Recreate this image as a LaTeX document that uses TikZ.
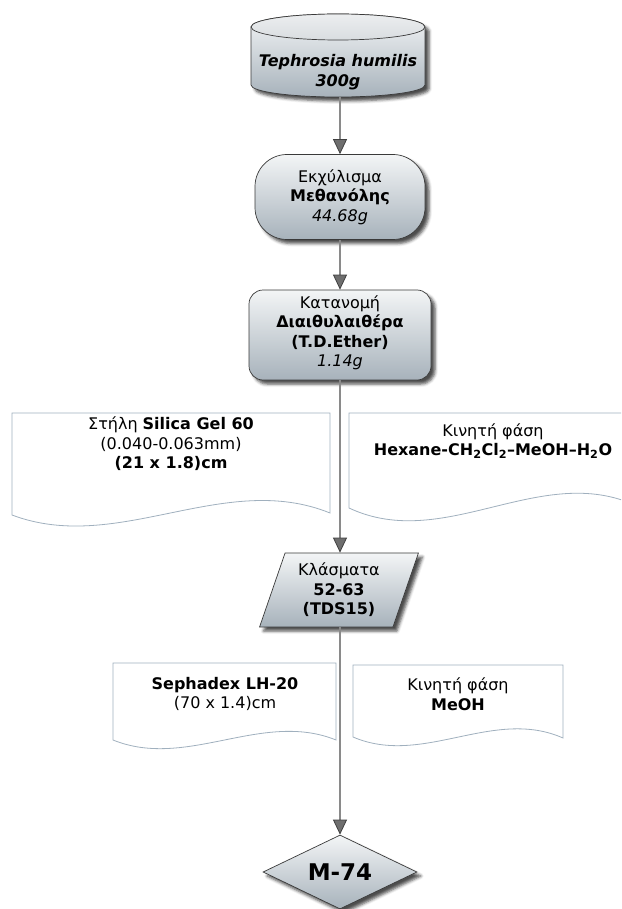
\documentclass[tikz,border=0pt]{standalone}
\usepackage{fontspec}
\setmainfont{DejaVu Sans}
\usepackage{tikz}
\usetikzlibrary{shapes.geometric, arrows.meta, shadows.blur}

\definecolor{boxtop}{HTML}{F3F5F6}
\definecolor{boxbot}{HTML}{A7B2BB}
\definecolor{capgray}{HTML}{D9DDE0}
\definecolor{edgegray}{HTML}{3A3A3A}
\definecolor{flowgray}{HTML}{8A8A8A}
\definecolor{sheetline}{HTML}{A0B0BE}

\tikzset{
  stage/.style={draw=edgegray, line width=0.7pt, top color=boxtop, bottom color=boxbot,
    blur shadow={shadow xshift=4pt, shadow yshift=-4pt, shadow blur radius=3pt, shadow opacity=70},
    align=center},
  flow/.style={draw=flowgray, line width=2.5pt,
    -{Triangle[width=14pt, length=15pt, line width=0.8pt, fill=flowgray!80!black, color=black!75]}},
  sheet/.style={draw=sheetline, line width=0.8pt, fill=white},
}

\begin{document}
\begin{tikzpicture}[x=1pt, y=-1pt, font=\fontsize{16pt}{19.5pt}\selectfont]
\useasboundingbox (0,0) rectangle (621,909);
\clip (0,0) rectangle (621,909);

% column and solvent sheets
\draw[sheet] (12,413) -- (330,413) -- (330,513) .. controls (224,470) and (118,555) .. (12,515) -- cycle;
\draw[sheet] (349,413) -- (637,413) -- (637,506) .. controls (541,461) and (445,553) .. (349,508) -- cycle;
\draw[sheet] (113,663) -- (336,663) -- (336,740) .. controls (262,710) and (187,770) .. (113,740) -- cycle;
\draw[sheet] (353,665) -- (563,665) -- (563,738) .. controls (493,707) and (423,767) .. (353,737) -- cycle;

\node[align=center] (silica) at (171,444) {Στήλη \textbf{Silica Gel 60}\\(0.040-0.063mm)\\\textbf{(21 x 1.8)cm}};
\node[align=center] (phase) at (493,441) {Κινητή φάση\\\textbf{Hexane-CH\textsubscript{2}Cl\textsubscript{2}--MeOH--H\textsubscript{2}O}};
\node[align=center] (sephadex) at (225,694) {\textbf{Sephadex LH-20}\\(70 x 1.4)cm};
\node[align=center] (eluent) at (458,694) {Κινητή φάση\\\textbf{MeOH}};

% plant material drum
\path[stage] (251,27) -- (251,85) arc[start angle=180, end angle=360, x radius=87pt, y radius=12pt]
  -- (425,27) arc[start angle=0, end angle=180, x radius=87pt, y radius=13pt] -- cycle;
\draw[draw=edgegray, line width=0.7pt, top color=capgray!50!white, bottom color=capgray]
  (338,27) ellipse [x radius=87pt, y radius=13pt];
\node[align=center] (plant) at (338,72) {\textbf{\textit{Tephrosia humilis}}\\\textbf{\textit{300g}}};
\coordinate (plantbot) at (340,97);

\node[stage, rounded corners=32pt, minimum width=170pt, minimum height=85pt] (extract) at (340,197)
  {Εκχύλισμα\\\textbf{Μεθανόλης}\\\textit{44.68g}};
\node[stage, rounded corners=14pt, minimum width=182pt, minimum height=90pt, text depth=8pt] (partition) at (340,335)
  {Κατανομή\\\textbf{Διαιθυλαιθέρα}\\\textbf{(T.D.Ether)}\\\textit{1.14g}};
\node[stage, trapezium, trapezium left angle=71, trapezium right angle=109, trapezium stretches=true,
  minimum width=159pt, minimum height=74pt] (fractions) at (339,590)
  {Κλάσματα\\\textbf{52-63}\\\textbf{(TDS15)}};
\node[stage, diamond, aspect=2, inner sep=0pt, minimum width=154pt, minimum height=74pt,
  font=\fontsize{23pt}{26pt}\selectfont\bfseries] (product) at (340,872) {M-74};

\draw[flow] (plantbot) -- (extract.north);
\draw[flow] (extract.south) -- (partition.north);
\draw[flow] (partition.south) -- (partition.south |- fractions.north);
\draw[flow] (product.north |- fractions.south) -- (product.north);
\end{tikzpicture}
\end{document}
